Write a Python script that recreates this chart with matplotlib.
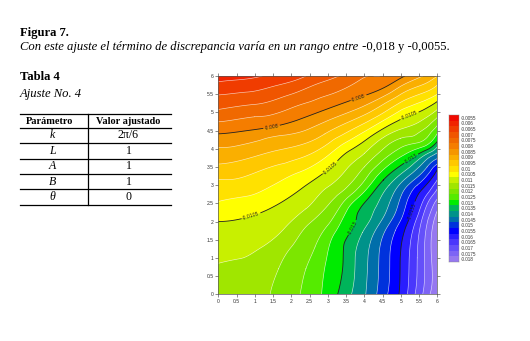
import numpy as np
import matplotlib
matplotlib.use("Agg")
import matplotlib.pyplot as plt
import matplotlib.tri as mtri
from matplotlib.lines import Line2D
from matplotlib.text import Annotation
from matplotlib.ticker import FuncFormatter, MultipleLocator

# ---------------- data ----------------
levels = [-0.018, -0.0175, -0.017, -0.0165, -0.016, -0.0155, -0.015, -0.0145,
          -0.014, -0.0135, -0.013, -0.0125, -0.012, -0.0115, -0.011, -0.0105,
          -0.01, -0.0095, -0.009, -0.0085, -0.008, -0.0075, -0.007, -0.0065,
          -0.006, -0.0055]
level_colors = ["#9678f0", "#7d64f5", "#6450fa", "#4a37fc", "#2a1efe", "#0000ff",
                "#0032dc", "#006eaa", "#00928a", "#00b45a", "#00eb00", "#55eb00",
                "#7ce600", "#a0e600", "#c8f000", "#ffff00", "#ffe100", "#ffc800",
                "#faaf00", "#f59600", "#f57d00", "#f06900", "#f05500", "#f03c00",
                "#f02300", "#f00a00"]
labelled_levels = [-0.0155, -0.013, -0.0105, -0.008]

# points (x, y)
line_m0060 = [(0, 5.84), (0.6, 5.9), (1.2, 6.0)]
line_m0065 = [(0, 5.48), (0.8, 5.56), (1.6, 5.74), (2.4, 6.0)]
line_m0070 = [(0, 5.08), (1.0, 5.22), (2.0, 5.5), (2.7, 5.78), (3.3, 6.0)]
line_m0075 = [(0, 4.74), (1.0, 4.88), (2.0, 5.12), (3.0, 5.47), (3.7, 5.78), (4.25, 6.0)]
line_m0080 = [(0, 4.41), (0.8, 4.5), (1.46, 4.6), (2.2, 4.8), (2.92, 5.07), (3.8, 5.39),
              (4.6, 5.71), (5.11, 6.0)]
line_m0085 = [(0, 4.04), (1.5, 4.33), (2.92, 4.74), (4.0, 5.18), (5.0, 5.72), (5.6, 6.0)]
line_m0090 = [(0, 3.58), (1.5, 3.93), (2.92, 4.41), (4.0, 4.93), (5.0, 5.5), (6.0, 6.0)]
line_m0095 = [(0, 3.16), (1.5, 3.52), (2.92, 4.08), (4.0, 4.7), (5.0, 5.28), (6.0, 5.75)]
line_m0100 = [(0, 2.55), (0.8, 2.7), (1.5, 3.0), (2.2, 3.35), (2.92, 3.75), (4.0, 4.47),
              (5.0, 5.06), (6.0, 5.5)]
line_m0105 = [(0, 2.0), (0.9, 2.15), (1.5, 2.4), (2.3, 2.92), (3.0, 3.42), (3.6, 3.95),
              (4.3, 4.42), (5.1, 4.86), (6.0, 5.3)]
line_m0110 = [(0, 0.85), (0.6, 0.98), (1.2, 1.3), (1.8, 1.8), (2.4, 2.35), (3.0, 2.95),
              (3.5, 3.42), (4.0, 3.87), (5.0, 4.54), (6.0, 5.08)]
line_m0115 = [(1.42, 0), (1.65, 0.7), (2.0, 1.3), (2.5, 1.95), (3.05, 2.5), (3.5, 2.92),
              (4.0, 3.5), (5.0, 4.29), (6.0, 4.86)]
line_m0120 = [(2.24, 0), (2.4, 0.7), (2.65, 1.3), (3.0, 1.9), (3.4, 2.5), (4.0, 3.12),
              (5.0, 4.03), (6.0, 4.64)]
line_m0125 = [(2.83, 0), (2.95, 0.9), (3.2, 1.7), (3.55, 2.35), (4.0, 2.82), (5.0, 3.78),
              (6.0, 4.42)]
line_m0130 = [(3.27, 0), (3.42, 0.94), (3.7, 1.86), (4.07, 2.59), (4.52, 3.14), (5.16, 3.65),
              (5.71, 3.97), (6.0, 4.2)]
line_m0135 = [(3.65, 0), (3.75, 1.0), (3.95, 1.7), (4.2, 2.13), (4.68, 3.0), (5.25, 3.5),
              (5.7, 3.85), (6.0, 4.05)]
line_m0140 = [(4.04, 0), (4.1, 1.0), (4.3, 1.75), (4.53, 2.13), (4.95, 3.0), (5.5, 3.5),
              (6.0, 3.89)]
line_m0145 = [(4.34, 0), (4.4, 1.0), (4.6, 1.8), (4.8, 2.13), (5.2, 3.0), (5.72, 3.5),
              (6.0, 3.73)]
line_m0150 = [(4.64, 0), (4.7, 1.0), (4.85, 1.75), (5.04, 2.13), (5.45, 3.0), (5.9, 3.5),
              (6.0, 3.58)]
line_m0155 = [(4.95, 0), (5.0, 1.22), (5.25, 2.13), (5.57, 2.87), (6.0, 3.42)]
line_m0160 = [(5.18, 0), (5.23, 1.0), (5.45, 2.13), (5.72, 2.75), (6.0, 3.15)]
line_m0165 = [(5.39, 0), (5.45, 1.0), (5.6, 2.13), (5.82, 2.65), (6.0, 2.9)]
line_m0170 = [(5.6, 0), (5.65, 1.0), (5.77, 2.13), (6.0, 2.62)]
line_m0175 = [(5.8, 0), (5.84, 1.0), (5.9, 2.0), (6.0, 2.3)]

# corner values (x, y, value)
corner_values = [(0, 0, -0.0113), (6, 0, -0.0179), (0, 6, -0.0058)]

contour_lines = {
    -0.006: line_m0060, -0.0065: line_m0065, -0.007: line_m0070, -0.0075: line_m0075,
    -0.008: line_m0080, -0.0085: line_m0085, -0.009: line_m0090, -0.0095: line_m0095,
    -0.01: line_m0100, -0.0105: line_m0105, -0.011: line_m0110, -0.0115: line_m0115,
    -0.012: line_m0120, -0.0125: line_m0125, -0.013: line_m0130, -0.0135: line_m0135,
    -0.014: line_m0140, -0.0145: line_m0145, -0.015: line_m0150, -0.0155: line_m0155,
    -0.016: line_m0160, -0.0165: line_m0165, -0.017: line_m0170, -0.0175: line_m0175,
}

# table
table_header = ["Parámetro", "Valor ajustado"]
table_params = ["k", "L", "A", "B", "θ"]
table_values = ["2π/6", "1", "1", "1", "0"]

# ---------------- build field ----------------
px, py, pz = [], [], []
for lev, pts in contour_lines.items():
    for (a, b) in pts:
        px.append(a); py.append(b); pz.append(lev)
for (a, b, v) in corner_values:
    px.append(a); py.append(b); pz.append(v)
px = np.array(px, float); py = np.array(py, float); pz = np.array(pz, float)

tri = mtri.Triangulation(px, py)
refiner = mtri.UniformTriRefiner(tri)
interp = mtri.CubicTriInterpolator(tri, pz, kind="min_E")
tri_ref, z_ref = refiner.refine_field(pz, triinterpolator=interp, subdiv=4)

W, H = 530, 341
fig = plt.figure(figsize=(W / 100, H / 100), dpi=100)
fig.patch.set_facecolor("white")


def fx(x):
    return x / W


def fy(y):
    return 1 - y / H


serif = ["Liberation Serif", "DejaVu Serif"]
sans = ["Liberation Sans", "DejaVu Sans"]
FS = 9.1

# ---------------- texts ----------------
fig.text(fx(20.5), fy(33), "Figura 7.", family=serif, weight="bold", fontsize=FS,
         va="center", ha="left")
t1 = fig.text(fx(20.5), fy(47), "Con este ajuste el término de discrepancia varía en un rango entre",
              family=serif, style="italic", fontsize=FS, va="center", ha="left")
an = Annotation(" -0,018 y -0,0055.", xy=(1, 0.5), xycoords=t1, va="center", ha="left",
                family=serif, fontsize=FS, annotation_clip=False)
fig.add_artist(an)

fig.text(fx(20), fy(77), "Tabla 4", family=serif, weight="bold", fontsize=FS,
         va="center", ha="left")
fig.text(fx(20), fy(93.5), "Ajuste No. 4", family=serif, style="italic", fontsize=FS,
         va="center", ha="left")

# table rules
rules_y = [114.3, 127.7, 143.3, 159.0, 173.8, 189.3, 205.0]
for yy in rules_y:
    fig.add_artist(Line2D([fx(19.5), fx(170.5)], [fy(yy), fy(yy)], color="black", lw=0.9))
fig.add_artist(Line2D([fx(87.7), fx(87.7)], [fy(114.3), fy(205.0)], color="black", lw=0.9))
col_c = [49.5, 128.5]
for j, h in enumerate(table_header):
    fig.text(fx(col_c[j]), fy((rules_y[0] + rules_y[1]) / 2 + 0.3), h, family=serif,
             weight="bold", fontsize=7.4, ha="center", va="center")
for i, (p, v) in enumerate(zip(table_params, table_values)):
    yc = (rules_y[i + 1] + rules_y[i + 2]) / 2
    fig.text(fx(col_c[0] + 3), fy(yc), p, family=serif, style="italic", fontsize=8.6,
             ha="center", va="center")
    fig.text(fx(col_c[1]), fy(yc), v, family=serif, fontsize=8.6, ha="center", va="center")

# ---------------- contour plot ----------------
ax = fig.add_axes([fx(218.3), fy(294.3), (437.3 - 218.3) / W, (294.3 - 76) / H])
fill_edges = [levels[0] - 0.001] + levels[1:] + [levels[-1] + 0.001]
ax.tricontourf(tri_ref, z_ref, levels=fill_edges, colors=level_colors, antialiased=True)
ax.tricontourf(tri_ref, z_ref, levels=fill_edges, colors=level_colors, antialiased=True)
white_levels = [l for l in levels[1:-1] if l not in labelled_levels]
ax.tricontour(tri_ref, z_ref, levels=white_levels, colors="white", linewidths=0.45,
              alpha=0.7, linestyles="solid")
cs = ax.tricontour(tri_ref, z_ref, levels=sorted(labelled_levels), colors="#202020",
                   linewidths=0.6, linestyles="solid")
label_pos = [(1.46, 4.6), (3.84, 5.41), (0.9, 2.15), (3.1, 3.45), (5.25, 4.88),
             (3.74, 1.8), (5.3, 3.7), (5.3, 2.3)]
ax.clabel(cs, fontsize=3.3, inline=True, inline_spacing=1, fmt=lambda v: "%g" % v,
          manual=label_pos, colors="#202020")

ax.set_xlim(0, 6)
ax.set_ylim(0, 6)
ax.xaxis.set_major_locator(MultipleLocator(0.5))
ax.yaxis.set_major_locator(MultipleLocator(0.5))
fmt = FuncFormatter(lambda v, p: "%g" % v)
ax.xaxis.set_major_formatter(fmt)
ax.yaxis.set_major_formatter(fmt)
ax.tick_params(direction="out", length=2, width=0.4, labelsize=3.6, pad=1.2,
               top=True, right=True, colors="#333333")
for lab in ax.get_xticklabels() + ax.get_yticklabels():
    lab.set_family(sans)
for s in ax.spines.values():
    s.set_linewidth(0.5)
    s.set_color("#555555")

# ---------------- colour legend ----------------
cax = fig.add_axes([fx(449), fy(262), 10 / W, 147 / H])
idx = np.arange(len(levels))
cax.barh(idx, [1] * len(levels), height=1.0, color=level_colors, edgecolor="none")
cax.set_xlim(0, 1)
cax.set_ylim(-0.5, len(levels) - 0.5)
cax.set_xticks([])
cax.set_yticks(idx)
cax.set_yticklabels(["%g" % l for l in levels], family=sans)
cax.yaxis.tick_right()
cax.tick_params(axis="y", length=0, labelsize=3.3, pad=1.5, colors="#333333")
for s in cax.spines.values():
    s.set_linewidth(0.3)
    s.set_color("#888888")

fig.savefig("out.png", dpi=100, facecolor="white")
